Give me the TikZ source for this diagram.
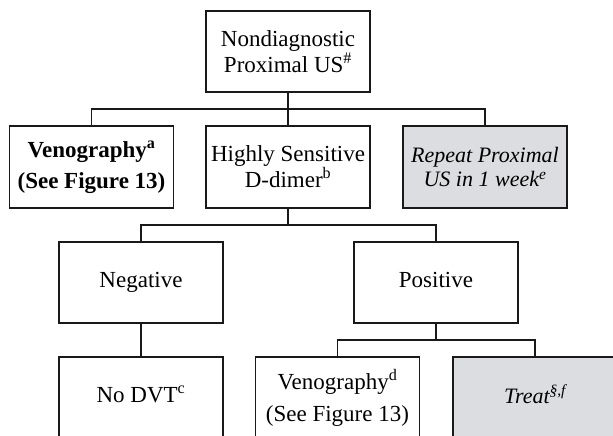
\documentclass[tikz,border=0pt]{standalone}
\usepackage{fontspec}
\setmainfont{Liberation Serif}
\definecolor{boxgray}{HTML}{DCDDE0}
\newcommand{\boxfont}{\fontsize{23}{23.5}\selectfont}
\tikzset{
	stepbox/.style={draw=black!90, line width=1.8pt, minimum width=164pt, minimum height=82pt, inner sep=0pt, align=center, font=\boxfont},
	greybox/.style={stepbox, fill=boxgray, font=\fontsize{22}{24.5}\selectfont\itshape},
	link/.style={line width=1.8pt, draw=black!90}
}

\begin{document}
\begin{tikzpicture}[x=1pt, y=-1pt]
		%%%%% START %%%%%
		\useasboundingbox (0, 0) rectangle (613, 436);
		\clip (0, 0) rectangle (613, 436);
		
		\node[stepbox, minimum height=81pt] (start) at (288, 51.5) {Nondiagnostic\\Proximal US\textsuperscript{\#}};
		
		\node[stepbox, font=\boxfont\bfseries] (venoA) at (91.5, 167) {Venography\textsuperscript{a}\\[7pt](See Figure 13)};
		\node[stepbox] (dimer) at (288, 167) {Highly Sensitive\\D-dimer\textsuperscript{b}};
		\node[greybox] (repeat) at (485, 167) {Repeat Proximal\\US in 1 week\textsuperscript{e}};
		
		\node[stepbox, minimum height=81pt] (neg) at (141, 282.5) {\strut Negative};
		\node[stepbox, minimum height=81pt] (pos) at (436, 282.5) {\strut Positive};
		
		\node[stepbox] (nodvt) at (141, 398) {\strut No DVT\textsuperscript{c}};
		\node[stepbox] (venoD) at (337.5, 398) {Venography\textsuperscript{d}\\[9pt](See Figure 13)};
		\node[greybox] (treat) at (535, 398) {\strut Treat\textsuperscript{\S,f}};
		
		\coordinate (fork1) at (288, 109);
		\coordinate (fork2) at (288, 225);
		\coordinate (fork3) at (436, 340);
		
		\draw[link] (start) -- (fork1);
		\draw[link] (fork1) -| (venoA);
		\draw[link] (fork1) -- (dimer);
		\draw[link] (fork1) -| (repeat);
		
		\draw[link] (dimer) -- (fork2);
		\draw[link] (fork2) -| (neg);
		\draw[link] (fork2) -| (pos);
		
		\draw[link] (neg) -- (nodvt);
		\draw[link] (pos) -- (fork3);
		\draw[link] (fork3) -| (venoD);
		\draw[link] (fork3) -| (treat);
		
		%%%%% END %%%%%
\end{tikzpicture}
\end{document}
